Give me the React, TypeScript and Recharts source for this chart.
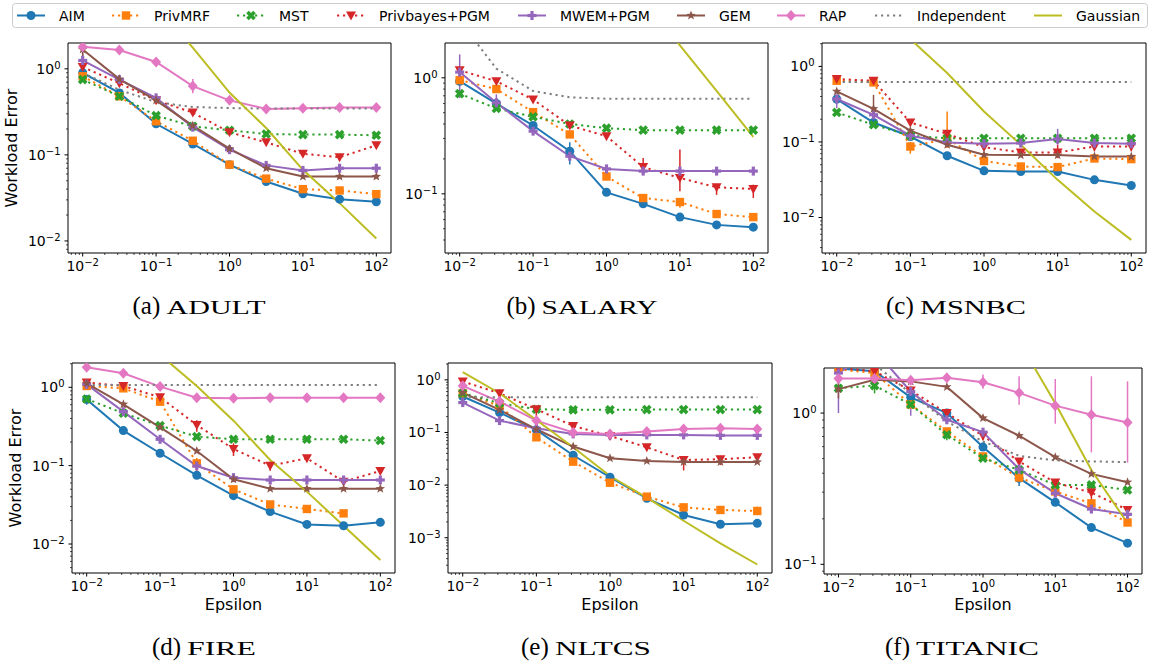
import React from "react";
import { LineChart, Line, XAxis, YAxis, ErrorBar, ReferenceArea } from "recharts";

type Val = number | null;
type Err = ([number, number] | null)[];

const epsilons = [0.01, 0.0316, 0.1, 0.316, 1, 3.16, 10, 31.6, 100];

// (a) ADULT
const adultAIM: Val[] = [0.9, 0.525, 0.23, 0.134, 0.077, 0.049, 0.0353, 0.0306, 0.0285];
const adultPrivMRF: Val[] = [0.82, 0.48, 0.246, 0.146, 0.077, 0.053, 0.04, 0.0386, 0.035];
const adultMST: Val[] = [0.75, 0.48, 0.286, 0.215, 0.193, 0.175, 0.172, 0.172, 0.169];
const adultPrivbayes: Val[] = [1.05, 0.68, 0.43, 0.31, 0.183, 0.14, 0.103, 0.094, 0.129];
const adultMWEM: Val[] = [1.25, 0.75, 0.46, 0.21, 0.115, 0.0755, 0.066, 0.07, 0.07];
const adultGEM: Val[] = [1.68, 0.76, 0.43, 0.219, 0.118, 0.07, 0.056, 0.056, 0.056];
const adultRAP: Val[] = [1.8, 1.65, 1.2, 0.63, 0.43, 0.342, 0.348, 0.355, 0.355];
const adultIndependent: Val[] = [0.9, 0.57, 0.41, 0.36, 0.35, 0.345, 0.345, 0.345, 0.345];
const adultGaussian: Val[] = [55, 17, 5.5, 1.76, 0.53, 0.205, 0.067, 0.0275, 0.0107];
const adultMWEMErr: Err = [[1.0, 1.55], [0.62, 0.8], null, null, null, null, null, null, null];
const adultGEMErr: Err = [[1.2, 1.75], null, null, null, null, null, null, null, null];
const adultRAPErr: Err = [null, null, null, [0.52, 0.76], null, null, null, null, null];

// (b) SALARY
const salaryAIM: Val[] = [0.935, 0.6, 0.388, 0.233, 0.103, 0.082, 0.063, 0.054, 0.0516];
const salaryPrivMRF: Val[] = [0.955, 0.8, 0.506, 0.325, 0.141, 0.092, 0.085, 0.067, 0.063];
const salaryMST: Val[] = [0.73, 0.544, 0.461, 0.4, 0.368, 0.354, 0.354, 0.354, 0.354];
const salaryPrivbayes: Val[] = [1.16, 0.935, 0.65, 0.388, 0.314, 0.17, 0.137, 0.114, 0.11];
const salaryMWEM: Val[] = [1.12, 0.61, 0.347, 0.211, 0.164, 0.157, 0.157, 0.157, 0.157];
const salaryIndependent: Val[] = [3.1, 1.2, 0.77, 0.68, 0.66, 0.66, 0.66, 0.66, 0.66];
const salaryGaussian: Val[] = [1000, 316, 100, 32, 11.5, 4.7, 1.9, 0.77, 0.31];
const salaryAIMErr: Err = [null, null, null, [0.179, 0.279], null, null, null, null, null];
const salaryPrivMRFErr: Err = [null, null, null, null, null, null, [0.076, 0.092], null, null];
const salaryPrivbayesErr: Err = [null, null, null, null, null, [0.152, 0.204], [0.105, 0.241], [0.098, 0.122], [0.092, 0.12]];
const salaryMWEMErr: Err = [[0.67, 1.59], [0.53, 0.72], null, null, null, null, null, null, null];

// (c) MSNBC
const msnbcAIM: Val[] = [0.37, 0.181, 0.118, 0.0656, 0.0415, 0.0407, 0.0407, 0.0315, 0.0265];
const msnbcPrivMRF: Val[] = [0.646, 0.614, 0.087, 0.11, 0.056, 0.0473, 0.0465, 0.0604, 0.0593];
const msnbcMST: Val[] = [0.246, 0.169, 0.121, 0.112, 0.112, 0.112, 0.112, 0.112, 0.112];
const msnbcPrivbayes: Val[] = [0.68, 0.646, 0.181, 0.128, 0.0855, 0.0726, 0.0726, 0.087, 0.087];
const msnbcMWEM: Val[] = [0.37, 0.229, 0.121, 0.0985, 0.0946, 0.0966, 0.109, 0.0966, 0.0946];
const msnbcGEM: Val[] = [0.467, 0.275, 0.141, 0.0917, 0.0676, 0.067, 0.067, 0.0643, 0.064];
const msnbcIndependent: Val[] = [0.62, 0.62, 0.62, 0.62, 0.62, 0.62, 0.62, 0.62, 0.62];
const msnbcGaussian: Val[] = [18, 6, 2.3, 0.816, 0.253, 0.0917, 0.0315, 0.012, 0.00506];
const msnbcPrivMRFErr: Err = [null, null, [0.07, 0.1], [0.083, 0.253], null, null, null, null, null];
const msnbcPrivbayesErr: Err = [null, null, null, null, null, null, [0.061, 0.092], [0.075, 0.09], [0.075, 0.09]];
const msnbcMWEMErr: Err = [[0.28, 0.38], null, null, null, null, null, [0.092, 0.149], null, null];
const msnbcGEMErr: Err = [null, [0.2, 0.42], null, null, null, null, null, null, null];

// (d) FIRE
const fireAIM: Val[] = [0.7, 0.28, 0.144, 0.0753, 0.0414, 0.0259, 0.0178, 0.0171, 0.0189];
const firePrivMRF: Val[] = [1.04, 0.97, 0.656, 0.107, 0.0499, 0.032, 0.028, 0.0246, null];
const fireMST: Val[] = [0.71, 0.466, 0.324, 0.235, 0.217, 0.217, 0.217, 0.217, 0.209];
const firePrivbayes: Val[] = [1.15, 1.04, 0.745, 0.33, 0.163, 0.1, 0.124, 0.0625, 0.0855];
const fireMWEM: Val[] = [1.09, 0.489, 0.217, 0.099, 0.0703, 0.0656, 0.0656, 0.0656, 0.0656];
const fireGEM: Val[] = [1.12, 0.607, 0.308, 0.154, 0.067, 0.0508, 0.0508, 0.0508, 0.0508];
const fireRAP: Val[] = [1.8, 1.51, 1.02, 0.738, 0.724, 0.738, 0.738, 0.738, 0.738];
const fireIndependent: Val[] = [1.07, 1.07, 1.07, 1.07, 1.07, 1.07, 1.07, 1.07, 1.07];
const fireGaussian: Val[] = [25, 8, 2.6, 1.04, 0.375, 0.118, 0.0466, 0.0171, 0.00625];
const fireAIMErr: Err = [[0.6, 0.72], null, null, null, null, null, null, null, [0.017, 0.021]];
const firePrivMRFErr: Err = [null, null, null, [0.08, 0.125], null, null, null, null, null];
const firePrivbayesErr: Err = [null, null, null, [0.27, 0.38], [0.133, 0.193], [0.086, 0.112], null, null, null];

// (e) NLTCS
const nltcsAIM: Val[] = [0.482, 0.239, 0.112, 0.0369, 0.0141, 0.0056, 0.0027, 0.0018, 0.00188];
const nltcsPrivMRF: Val[] = [0.557, 0.32, 0.081, 0.0279, 0.0111, 0.00604, 0.00378, 0.00337, 0.00322];
const nltcsMST: Val[] = [0.557, 0.36, 0.277, 0.269, 0.269, 0.272, 0.272, 0.272, 0.272];
const nltcsPrivbayes: Val[] = [0.93, 0.557, 0.277, 0.133, 0.086, 0.0524, 0.03, 0.031, 0.0338];
const nltcsMWEM: Val[] = [0.37, 0.168, 0.12, 0.094, 0.09, 0.09, 0.09, 0.088, 0.088];
const nltcsGEM: Val[] = [0.574, 0.269, 0.115, 0.054, 0.0324, 0.0288, 0.0275, 0.0275, 0.0275];
const nltcsRAP: Val[] = [0.77, 0.387, 0.168, 0.0996, 0.094, 0.104, 0.117, 0.12, 0.117];
const nltcsIndependent: Val[] = [0.468, 0.468, 0.468, 0.468, 0.468, 0.468, 0.468, 0.468, 0.468];
const nltcsGaussian: Val[] = [1.4, 0.557, 0.173, 0.0524, 0.0149, 0.00578, 0.0021, 0.00078, 0.00031];
const nltcsPrivMRFErr: Err = [null, null, null, null, null, null, null, null, [0.0027, 0.0039]];
const nltcsPrivbayesErr: Err = [[0.85, 1.0], [0.45, 0.65], [0.2, 0.3], [0.083, 0.15], null, [0.046, 0.058], [0.019, 0.035], [0.024, 0.036], null];

// (f) TITANIC
const titanicAIM: Val[] = [1.97, 1.89, 1.27, 1.0, 0.596, 0.371, 0.257, 0.175, 0.138];
const titanicPrivMRF: Val[] = [1.94, 1.84, 1.14, 0.756, 0.517, 0.375, 0.303, 0.253, 0.189];
const titanicMST: Val[] = [1.46, 1.52, 1.14, 0.719, 0.503, 0.421, 0.335, 0.335, 0.31];
const titanicPrivbayes: Val[] = [1.99, 1.89, 1.41, 1.0, 0.708, 0.479, 0.347, 0.298, 0.229];
const titanicMWEM: Val[] = [1.84, 2.6, 1.39, 0.903, 0.748, 0.426, 0.295, 0.232, 0.214];
const titanicGEM: Val[] = [1.44, 1.66, 1.62, 1.49, 0.927, 0.708, 0.511, 0.396, 0.349];
const titanicRAP: Val[] = [1.69, 1.69, 1.65, 1.71, 1.6, 1.36, 1.12, 0.975, 0.867];
const titanicIndependent: Val[] = [2.8, 2.1, 1.35, 0.88, 0.649, 0.522, 0.486, 0.479, 0.474];
const titanicGaussian: Val[] = [316, 126, 50, 20, 7.7, 2.98, 1.16, 0.42, 0.187];
const titanicAIMErr: Err = [null, null, null, null, null, [0.33, 0.4], null, null, null];
const titanicMSTErr: Err = [null, [1.35, 1.6], null, [0.66, 0.78], null, null, [0.32, 0.36], null, null];
const titanicPrivbayesErr: Err = [null, null, [1.3, 1.5], null, [0.66, 0.76], null, null, [0.25, 0.33], null];
const titanicMWEMErr: Err = [[1.0, 2.0], null, [0.96, 1.45], null, null, null, null, null, null];
const titanicGEMErr: Err = [[1.25, 1.6], null, null, null, null, null, null, null, null];
const titanicRAPErr: Err = [null, null, null, null, [1.45, 1.8], [1.135, 1.75], [0.85, 1.68], [0.55, 1.75], [0.47, 1.62]];

const methods = [
  { name: "AIM", color: "#1f77b4", dotted: false, marker: "circle" },
  { name: "PrivMRF", color: "#ff7f0e", dotted: true, marker: "square" },
  { name: "MST", color: "#2ca02c", dotted: true, marker: "x" },
  { name: "Privbayes+PGM", color: "#d62728", dotted: true, marker: "tri" },
  { name: "MWEM+PGM", color: "#9467bd", dotted: false, marker: "plus" },
  { name: "GEM", color: "#8c564b", dotted: false, marker: "star" },
  { name: "RAP", color: "#e377c2", dotted: false, marker: "diamond" },
  { name: "Independent", color: "#7f7f7f", dotted: true, marker: "" },
  { name: "Gaussian", color: "#bcbd22", dotted: false, marker: "" },
];
const legendTextX = [59, 154, 279, 379, 560, 719, 819, 917, 1076];

type PanelDef = {
  tag: string;
  title: string;
  titleWidth: number;
  frame: [number, number, number, number];
  yExp: [number, number];
  captionX: number;
  bottom: boolean;
  series: (Val[] | null)[];
  errors: Record<number, Err>;
};

const panels: PanelDef[] = [
  {
    tag: "a", title: "ADULT", titleWidth: 99, frame: [68, 43, 391, 253], yExp: [-2.14, 0.3], captionX: 199, bottom: false,
    series: [adultAIM, adultPrivMRF, adultMST, adultPrivbayes, adultMWEM, adultGEM, adultRAP, adultIndependent, adultGaussian],
    errors: { 4: adultMWEMErr, 5: adultGEMErr, 6: adultRAPErr },
  },
  {
    tag: "b", title: "SALARY", titleWidth: 116, frame: [445, 43, 768, 253], yExp: [-1.51, 0.3], captionX: 582, bottom: false,
    series: [salaryAIM, salaryPrivMRF, salaryMST, salaryPrivbayes, salaryMWEM, null, null, salaryIndependent, salaryGaussian],
    errors: { 0: salaryAIMErr, 1: salaryPrivMRFErr, 3: salaryPrivbayesErr, 4: salaryMWEMErr },
  },
  {
    tag: "c", title: "MSNBC", titleWidth: 106, frame: [822, 43, 1146, 253], yExp: [-2.47, 0.31], captionX: 956, bottom: false,
    series: [msnbcAIM, msnbcPrivMRF, msnbcMST, msnbcPrivbayes, msnbcMWEM, msnbcGEM, null, msnbcIndependent, msnbcGaussian],
    errors: { 1: msnbcPrivMRFErr, 3: msnbcPrivbayesErr, 4: msnbcMWEMErr, 5: msnbcGEMErr },
  },
  {
    tag: "d", title: "FIRE", titleWidth: 69, frame: [72, 363, 395, 573], yExp: [-2.37, 0.31], captionX: 204, bottom: true,
    series: [fireAIM, firePrivMRF, fireMST, firePrivbayes, fireMWEM, fireGEM, fireRAP, fireIndependent, fireGaussian],
    errors: { 0: fireAIMErr, 1: firePrivMRFErr, 3: firePrivbayesErr },
  },
  {
    tag: "e", title: "NLTCS", titleWidth: 96, frame: [448, 363, 772, 573], yExp: [-3.67, 0.32], captionX: 586, bottom: true,
    series: [nltcsAIM, nltcsPrivMRF, nltcsMST, nltcsPrivbayes, nltcsMWEM, nltcsGEM, nltcsRAP, nltcsIndependent, nltcsGaussian],
    errors: { 1: nltcsPrivMRFErr, 3: nltcsPrivbayesErr },
  },
  {
    tag: "f", title: "TITANIC", titleWidth: 123, frame: [824, 368, 1142, 574], yExp: [-1.064, 0.298], captionX: 962, bottom: true,
    series: [titanicAIM, titanicPrivMRF, titanicMST, titanicPrivbayes, titanicMWEM, titanicGEM, titanicRAP, titanicIndependent, titanicGaussian],
    errors: { 0: titanicAIMErr, 2: titanicMSTErr, 3: titanicPrivbayesErr, 4: titanicMWEMErr, 5: titanicGEMErr, 6: titanicRAPErr },
  },
];

const SANS = '"DejaVu Sans", sans-serif';
const SERIF = '"Liberation Serif", "DejaVu Serif", serif';
const X_EXP: [number, number] = [-2.2, 2.2];

// major + minor ticks of a log axis between two exponents
function logTicks(lo: number, hi: number) {
  const out: number[] = [];
  for (let e = Math.floor(lo); e <= Math.ceil(hi); e++) {
    for (let m = 1; m <= 9; m++) {
      const v = m * Math.pow(10, e);
      const l = Math.log10(v);
      if (l >= lo - 1e-9 && l <= hi + 1e-9) out.push(v);
    }
  }
  return out;
}

function isMajor(v: number) {
  const l = Math.log10(v);
  return Math.abs(l - Math.round(l)) < 1e-6;
}

function expText(v: number) {
  const e = Math.round(Math.log10(v));
  return (e < 0 ? "\u2212" : "") + Math.abs(e);
}

function LogTick(props: any) {
  const { x, y, payload, side } = props;
  const v = payload.value;
  const major = isMajor(v);
  const len = major ? 3.5 : 2;
  if (side === "x") {
    return (
      <g>
        <line x1={x} x2={x} y1={y} y2={y + len} stroke="#000" strokeWidth={major ? 1 : 0.7} />
        {major && (
          <text x={x} y={y + 18} textAnchor="middle" fontSize={14} fontFamily={SANS} fill="#000">
            10<tspan dy={-5} fontSize={10}>{expText(v)}</tspan>
          </text>
        )}
      </g>
    );
  }
  return (
    <g>
      <line x1={x - len} x2={x} y1={y} y2={y} stroke="#000" strokeWidth={major ? 1 : 0.7} />
      {major && (
        <text x={x - 7.5} y={y + 5} textAnchor="end" fontSize={14} fontFamily={SANS} fill="#000">
          10<tspan dy={-5} fontSize={10}>{expText(v)}</tspan>
        </text>
      )}
    </g>
  );
}

function Marker({ cx, cy, kind, color }: { cx: number | null; cy: number | null; kind: string; color: string }) {
  if (cx == null || cy == null || isNaN(cx) || isNaN(cy)) return null;
  const s = 4.5;
  const w = 1.6;
  switch (kind) {
    case "circle":
      return <circle cx={cx} cy={cy} r={4.5} fill={color} />;
    case "square":
      return <rect x={cx - 4.2} y={cy - 4.2} width={8.4} height={8.4} fill={color} />;
    case "x":
      return (
        <g transform={`translate(${cx},${cy}) rotate(45)`} fill={color}>
          <rect x={-s - 0.5} y={-w - 0.2} width={2 * s + 1} height={2 * w + 0.4} />
          <rect x={-w - 0.2} y={-s - 0.5} width={2 * w + 0.4} height={2 * s + 1} />
        </g>
      );
    case "tri":
      return <polygon points={`${cx - 5},${cy - 4} ${cx + 5},${cy - 4} ${cx},${cy + 5}`} fill={color} />;
    case "plus":
      return (
        <g transform={`translate(${cx},${cy})`} fill={color}>
          <rect x={-s} y={-w} width={2 * s} height={2 * w} />
          <rect x={-w} y={-s} width={2 * w} height={2 * s} />
        </g>
      );
    case "star": {
      const pts: string[] = [];
      for (let i = 0; i < 10; i++) {
        const r = i % 2 === 0 ? 5 : 2.1;
        const a = (Math.PI / 5) * i - Math.PI / 2;
        pts.push(`${cx + r * Math.cos(a)},${cy + r * Math.sin(a)}`);
      }
      return <polygon points={pts.join(" ")} fill={color} />;
    }
    case "diamond":
      return <polygon points={`${cx},${cy - 5.5} ${cx + 5},${cy} ${cx},${cy + 5.5} ${cx - 5},${cy}`} fill={color} />;
    default:
      return null;
  }
}

function Panel({ p }: { p: PanelDef }) {
  const [L, T, R, B] = p.frame;
  const xLo = Math.pow(10, X_EXP[0]);
  const xHi = Math.pow(10, X_EXP[1]);
  const yLo = Math.pow(10, p.yExp[0]);
  const yHi = Math.pow(10, p.yExp[1]);

  const rows = epsilons.map((eps, i) => {
    const row: Record<string, any> = { eps };
    p.series.forEach((s, j) => {
      if (!s) return;
      row[`s${j}`] = s[i];
      const e = p.errors[j];
      const v = s[i];
      if (e && e[i] && v != null) row[`e${j}`] = [v - e[i]![0], e[i]![1] - v];
    });
    return row;
  });

  return (
    <div style={{ position: "absolute", left: L - 70, top: T - 10 }}>
      <LineChart
        width={R - L + 80}
        height={B - T + 50}
        data={rows}
        margin={{ top: 10, right: 10, bottom: 0, left: 0 }}
      >
        <XAxis
          dataKey="eps"
          type="number"
          scale="log"
          domain={[xLo, xHi]}
          allowDataOverflow
          ticks={logTicks(X_EXP[0], X_EXP[1])}
          interval={0}
          tick={(t: any) => <LogTick {...t} side="x" />}
          tickLine={false}
          axisLine={false}
          tickSize={0}
          tickMargin={0}
          height={40}
        />
        <YAxis
          type="number"
          scale="log"
          domain={[yLo, yHi]}
          allowDataOverflow
          ticks={logTicks(p.yExp[0], p.yExp[1])}
          interval={0}
          tick={(t: any) => <LogTick {...t} side="y" />}
          tickLine={false}
          axisLine={false}
          tickSize={0}
          tickMargin={0}
          width={70}
        />
        {methods.map((m, j) =>
          p.series[j] ? (
            <Line
              key={m.name}
              dataKey={`s${j}`}
              type="linear"
              stroke={m.color}
              strokeWidth={2}
              strokeDasharray={m.dotted ? "2.2 3.8" : undefined}
              isAnimationActive={false}
              activeDot={false}
              dot={
                m.marker
                  ? (d: any) => <Marker key={`m${j}-${d.index}`} cx={d.cx} cy={d.cy} kind={m.marker} color={m.color} />
                  : false
              }
            >
              {p.errors[j] ? (
                <ErrorBar dataKey={`e${j}`} direction="y" width={0} stroke={m.color} strokeWidth={1.5} />
              ) : null}
            </Line>
          ) : null
        )}
        <ReferenceArea x1={xLo} x2={xHi} y1={yLo} y2={yHi} fill="none" stroke="#000" strokeWidth={1} ifOverflow="visible" />
      </LineChart>
    </div>
  );
}

// rough widths of the serif "(x)" prefix at 25px
const tagWidth: Record<string, number> = { a: 28, b: 29, c: 28, d: 29, e: 28, f: 25 };

export default function App() {
  return (
    <div style={{ position: "absolute", left: 0, top: 0, width: 1150, height: 666, background: "#fff", overflow: "hidden" }}>
      <svg width={1150} height={666} style={{ position: "absolute", left: 0, top: 0 }}>
        <rect x={12.5} y={3.5} width={1135} height={24} rx={3} fill="#fff" stroke="#cccccc" />
        {methods.map((m, j) => {
          const tx = legendTextX[j];
          return (
            <g key={m.name}>
              <line
                x1={tx - 42}
                x2={tx - 14}
                y1={15.5}
                y2={15.5}
                stroke={m.color}
                strokeWidth={2}
                strokeDasharray={m.dotted ? "2.2 3.8" : undefined}
              />
              {m.marker ? <Marker cx={tx - 28} cy={15.5} kind={m.marker} color={m.color} /> : null}
              <text x={tx} y={20.5} fontSize={14} fontFamily={SANS} fill="#000">
                {m.name}
              </text>
            </g>
          );
        })}
        {panels.map((p) => {
          const [L, T, R, B] = p.frame;
          const tw = tagWidth[p.tag];
          const total = tw + 6 + p.titleWidth;
          const x0 = p.captionX - total / 2;
          const base = p.bottom ? 655 : 314;
          return (
            <g key={p.tag}>
              {p.tag === "a" || p.tag === "d" ? (
                <text
                  transform={`translate(${L - 51},${(T + B) / 2}) rotate(-90)`}
                  textAnchor="middle"
                  fontSize={16}
                  fontFamily={SANS}
                  fill="#000"
                >
                  Workload Error
                </text>
              ) : null}
              {p.bottom ? (
                <text x={(L + R) / 2} y={609.5} textAnchor="middle" fontSize={16} fontFamily={SANS} fill="#000">
                  Epsilon
                </text>
              ) : null}
              <text x={x0} y={base} fontSize={25} fontFamily={SERIF} fill="#000">
                ({p.tag})
              </text>
              <text
                x={x0 + tw + 6}
                y={base}
                fontSize={18.5}
                fontFamily={SERIF}
                fill="#000"
                textLength={p.titleWidth}
                lengthAdjust="spacingAndGlyphs"
              >
                {p.title}
              </text>
            </g>
          );
        })}
      </svg>
      {panels.map((p) => (
        <Panel key={p.tag} p={p} />
      ))}
    </div>
  );
}
